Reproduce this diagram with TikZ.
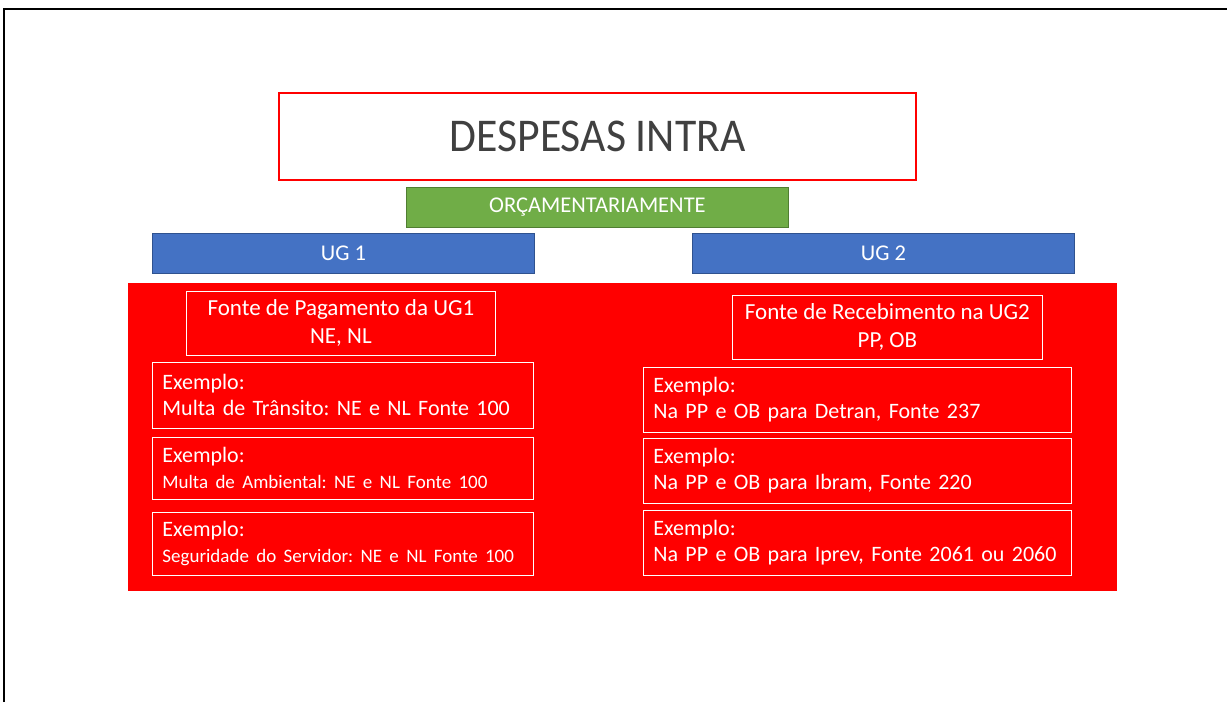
\documentclass[tikz,border=0pt]{standalone}
\usepackage{fontspec}
\setmainfont{Carlito}
\usepackage{graphicx}
\frenchspacing

\definecolor{ugblue}{HTML}{4472C4}
\definecolor{ugblueline}{HTML}{2F528F}
\definecolor{orcgreen}{HTML}{70AD47}
\definecolor{orcgreenline}{HTML}{507E32}
\definecolor{titlegray}{HTML}{404040}

\tikzset{
  bar/.style={anchor=north west, inner sep=0pt, line width=0.8pt, text=white,
    font=\fontsize{22.5}{26}\selectfont},
  srcbox/.style={draw=white, line width=0.8pt, anchor=north west, inner sep=0pt,
    text=white, align=center, font=\fontsize{23}{28}\selectfont},
  exbox/.style={draw=white, line width=0.8pt, anchor=north west, inner xsep=10pt,
    inner ysep=0pt, text=white, align=left, font=\fontsize{22}{26}\selectfont}
}

\begin{document}
\begin{tikzpicture}[x=1pt,y=-1pt]
    \useasboundingbox (0,0) rectangle (1227,702);
    % slide frame
    \draw[line width=2pt] (4,702) -- (4,9) -- (1227,9);

    % title and headers
    \node[draw=red, line width=2.2pt, fill=white, anchor=north west, inner sep=0pt,
      minimum width=637pt, minimum height=87pt, text=titlegray,
      font=\fontsize{47}{50}\selectfont] (titulo) at (278,92)
      {\scalebox{0.93}[1]{DESPESAS INTRA}};
    \node[bar, draw=orcgreenline, fill=orcgreen, minimum width=382pt, minimum height=40pt]
      (orc) at (406,187) {ORÇAMENTARIAMENTE};
    \node[bar, draw=ugblueline, fill=ugblue, minimum width=382pt, minimum height=40pt]
      (ug1) at (152,233) {UG 1};
    \node[bar, draw=ugblueline, fill=ugblue, minimum width=382pt, minimum height=40pt]
      (ug2) at (692,233) {UG 2};

    % red panel
    \fill[red] (128,283) rectangle (1117,591);

    % UG 1 side
    \node[srcbox, minimum width=309pt, minimum height=64pt] (pag) at (186,291)
      {Fonte de Pagamento da UG1\\NE, NL};
    \node[exbox, text width=361pt, minimum height=66pt] (ex1) at (152,362)
      {Exemplo:\\Multa de Trânsito: NE e NL Fonte 100};
    \node[exbox, text width=361pt, minimum height=62pt] (ex2) at (152,437)
      {Exemplo:\\{\fontsize{19}{22}\selectfont Multa de Ambiental: NE e NL Fonte 100}};
    \node[exbox, text width=361pt, minimum height=63pt] (ex3) at (152,512)
      {Exemplo:\\{\fontsize{19}{22}\selectfont Seguridade do Servidor: NE e NL Fonte 100}};

    % UG 2 side
    \node[srcbox, minimum width=310pt, minimum height=64pt] (rec) at (732,295)
      {Fonte de Recebimento na UG2\\PP, OB};
    \node[exbox, text width=408pt, minimum height=65pt] (ex4) at (643,367)
      {Exemplo:\\Na PP e OB para Detran, Fonte 237};
    \node[exbox, text width=408pt, minimum height=65pt] (ex5) at (643,438)
      {Exemplo:\\Na PP e OB para Ibram, Fonte 220};
    \node[exbox, text width=408pt, minimum height=65pt] (ex6) at (643,510)
      {Exemplo:\\Na PP e OB para Iprev, Fonte 2061 ou 2060};
\end{tikzpicture}
\end{document}
